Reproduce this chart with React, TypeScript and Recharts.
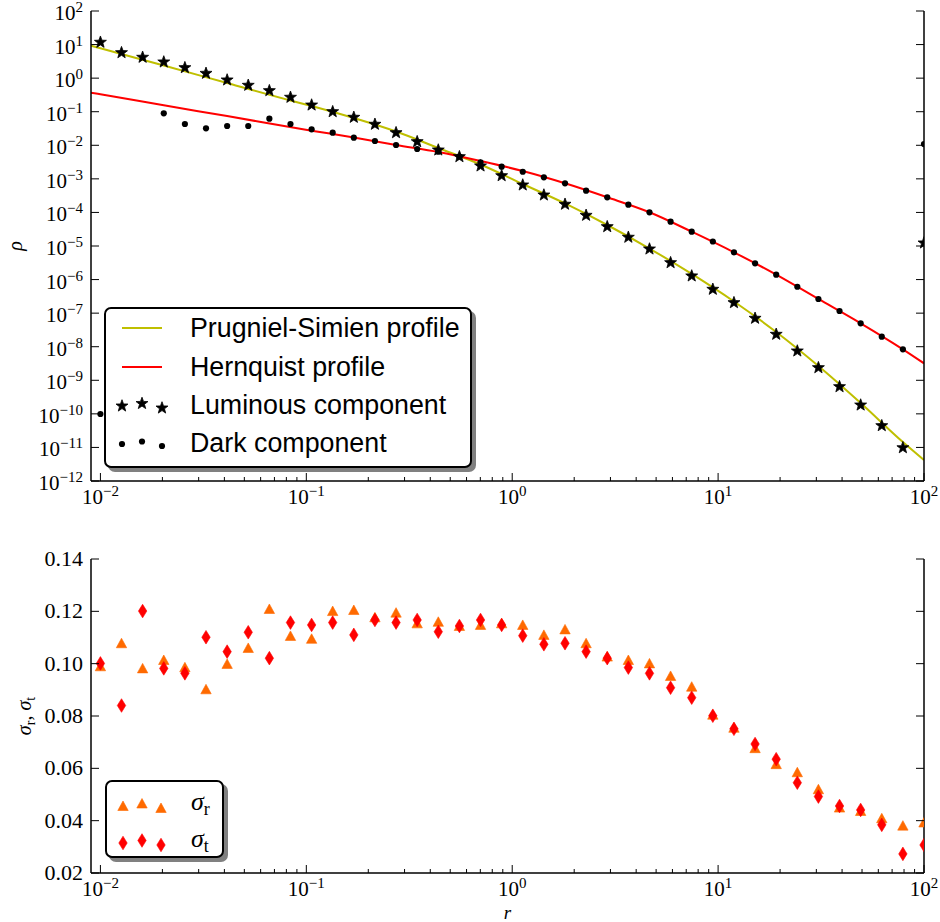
import React from 'react';
import { ComposedChart, Scatter, Line, XAxis, YAxis, Legend } from 'recharts';

// ---------------- data ----------------
const R_GRID = [
  0.01, 0.01266, 0.01603, 0.02031, 0.02572, 0.03257, 0.04125, 0.05223, 0.06615, 0.08377,
  0.1061, 0.1343, 0.1701, 0.2154, 0.2728, 0.3455, 0.4375, 0.5541, 0.7017, 0.8886,
  1.125, 1.425, 1.805, 2.285, 2.894, 3.665, 4.642, 5.878, 7.444, 9.427,
  11.94, 15.12, 19.15, 24.25, 30.7, 38.88, 49.24, 62.36, 78.97, 100,
];

const LUMINOUS_RHO = [
  11.7, 5.73, 4.18, 3.03, 2.05, 1.39, 0.881, 0.612, 0.423, 0.269,
  0.158, 0.1, 0.0681, 0.0422, 0.0237, 0.0128, 0.00723, 0.00457, 0.00242, 0.00124,
  6.56e-4, 3.3e-4, 1.75e-4, 8.2e-5, 3.76e-5, 1.82e-5, 8.13e-6, 3.18e-6, 1.28e-6, 5.13e-7,
  2.05e-7, 7.02e-8, 2.34e-8, 7.45e-9, 2.37e-9, 6.43e-10, 1.83e-10, 4.44e-11, 9.79e-12, 1.23e-5,
];

const DARK_RHO: (number | null)[] = [
  9.9e-11, null, null, 0.0897, 0.0431, 0.0321, 0.0375, 0.0375, 0.0619, 0.0431,
  0.0299, 0.0237, 0.0168, 0.0134, 0.0102, 0.00774, 0.00644, 0.00457, 0.00311, 0.0023,
  0.00163, 0.00111, 7.36e-4, 4.44e-4, 2.82e-4, 1.7e-4, 1.01e-4, 5.3e-5, 2.67e-5, 1.36e-5,
  6.49e-6, 3.05e-6, 1.4e-6, 6.12e-7, 2.64e-7, 1.16e-7, 4.98e-8, 1.99e-8, 8.36e-9, 0.0109,
];

const PS_R = [0.009, 0.01, 0.02031, 0.04125, 0.08377, 0.1061, 0.1701, 0.2728, 0.4375, 0.7017, 1.125, 1.805, 2.894, 4.642, 7.444, 11.94, 19.15, 30.7, 49.24, 78.97, 100];
const PS_RHO = [9.25, 7.74, 2.38, 0.716, 0.216, 0.148, 0.065, 0.0257, 0.0083, 0.00267, 7.03e-4, 1.85e-4, 4.22e-5, 8.41e-6, 1.47e-6, 2.22e-7, 2.74e-8, 2.66e-9, 2.1e-10, 1.45e-11, 4.22e-12];

const HQ_R = [0.009, 0.01, 0.02031, 0.04125, 0.1061, 0.1701, 0.2728, 0.4375, 0.7017, 1.125, 1.805, 2.894, 4.642, 7.444, 11.94, 19.15, 30.7, 49.24, 78.97, 100];
const HQ_RHO = [0.368, 0.33, 0.155, 0.074, 0.0272, 0.0171, 0.0102, 0.00631, 0.0034, 0.00171, 7.36e-4, 2.82e-4, 1.01e-4, 2.67e-5, 6.49e-6, 1.4e-6, 2.64e-7, 4.98e-8, 8.36e-9, 3.2e-9];

const SIGMA_R = [
  0.099, 0.1078, 0.0982, 0.1014, 0.0986, 0.0902, 0.0999, 0.106, 0.1209, 0.1106,
  0.1095, 0.1201, 0.1205, 0.1177, 0.1195, 0.1154, 0.116, 0.1144, 0.1148, 0.1154,
  0.1148, 0.111, 0.1131, 0.1078, 0.1027, 0.1014, 0.1001, 0.0953, 0.0912, 0.0805,
  0.0755, 0.0677, 0.0616, 0.0585, 0.052, 0.045, 0.0437, 0.0409, 0.0381, 0.0393,
];
const SIGMA_T = [
  0.1001, 0.084, 0.1201, 0.0982, 0.0963, 0.1101, 0.1046, 0.112, 0.1021, 0.1157,
  0.1148, 0.1157, 0.111, 0.1167, 0.1157, 0.1167, 0.1122, 0.1144, 0.1167, 0.1148,
  0.1107, 0.1074, 0.1078, 0.1046, 0.1021, 0.0985, 0.0963, 0.0908, 0.087, 0.0801,
  0.0751, 0.0693, 0.0635, 0.0545, 0.0492, 0.0456, 0.0441, 0.0384, 0.0273, 0.0307,
];

const X_DECADES = [0.01, 0.1, 1, 10, 100];
const X_MINOR_MULT = [2, 3, 4, 5, 6, 7, 8, 9];
const Y_TOP_TICKS = [1e-12, 1e-11, 1e-10, 1e-9, 1e-8, 1e-7, 1e-6, 1e-5, 1e-4, 1e-3, 1e-2, 1e-1, 1, 10, 100];
const Y_BOT_TICKS = [0.02, 0.04, 0.06, 0.08, 0.1, 0.12, 0.14];
const Y_BOT_LABELS = ['0.02', '0.04', '0.06', '0.08', '0.10', '0.12', '0.14'];

const LEGEND_TOP = ['Prugniel-Simien profile', 'Hernquist profile', 'Luminous component', 'Dark component'];

// ---------------- styles ----------------
const SERIF = "'Liberation Serif', 'DejaVu Serif', serif";
const SANS = "'Liberation Sans', Arial, sans-serif";
const C_PS = '#bfbf00';
const C_HQ = '#ff0000';
const C_TRI = '#ff6a00';
const C_DIA = '#ff0000';
const AXLINE = { stroke: '#000', strokeWidth: 1.5 };
const TICK_FS = 21;
const SUP_FS = 15;

const X_TICKS: number[] = [];
X_DECADES.forEach((d, i) => {
  X_TICKS.push(d);
  if (i < X_DECADES.length - 1) X_MINOR_MULT.forEach((m) => X_TICKS.push(m * d));
});

const pts = (xs: number[], ys: (number | null)[]) =>
  xs.map((r, i) => ({ r, v: ys[i] })).filter((p) => p.v != null);

const psData = pts(PS_R, PS_RHO);
const hqData = pts(HQ_R, HQ_RHO);
const lumData = pts(R_GRID, LUMINOUS_RHO);
const darkData = pts(R_GRID, DARK_RHO);
const sigRData = pts(R_GRID, SIGMA_R);
const sigTData = pts(R_GRID, SIGMA_T);

const isDecade = (v: number) => {
  const l = Math.log10(v);
  return Math.abs(l - Math.round(l)) < 1e-6;
};
const expStr = (v: number) => {
  const e = Math.round(Math.log10(v));
  return e < 0 ? '\u2212' + String(-e) : String(e);
};

// ---------------- marker shapes ----------------
function starPath(cx: number, cy: number, R: number, r: number) {
  let d = '';
  for (let i = 0; i < 10; i++) {
    const a = -Math.PI / 2 + (i * Math.PI) / 5;
    const rad = i % 2 === 0 ? R : r;
    d += (i === 0 ? 'M' : 'L') + (cx + rad * Math.cos(a)).toFixed(2) + ',' + (cy + rad * Math.sin(a)).toFixed(2);
  }
  return d + 'Z';
}
const Star = ({ cx, cy }: any) =>
  cx == null ? null : <path d={starPath(cx, cy, 6.3, 2.6)} fill="#000" stroke="#000" strokeWidth={0.8} />;
const Dot = ({ cx, cy }: any) => (cx == null ? null : <circle cx={cx} cy={cy} r={3.1} fill="#000" />);
const Tri = ({ cx, cy }: any) =>
  cx == null ? null : (
    <path d={`M${cx},${cy - 5}L${cx + 5.2},${cy + 4.5}L${cx - 5.2},${cy + 4.5}Z`} fill={C_TRI} stroke={C_TRI} strokeWidth={0.6} />
  );
const Dia = ({ cx, cy }: any) =>
  cx == null ? null : (
    <path d={`M${cx},${cy - 6.8}L${cx + 4.2},${cy}L${cx},${cy + 6.8}L${cx - 4.2},${cy}Z`} fill={C_DIA} stroke={C_DIA} strokeWidth={0.6} />
  );

// ---------------- ticks ----------------
const XTick = (props: any) => {
  const { x, y, payload, side, showLabel } = props;
  const v = payload.value;
  const major = isDecade(v);
  const len = major ? 8 : 4;
  const dir = side === 'bottom' ? -1 : 1;
  return (
    <g>
      <line x1={x} x2={x} y1={y} y2={y + dir * len} stroke="#000" strokeWidth={1} />
      {showLabel && major && (
        <text x={x} y={y + 23} textAnchor="middle" fontFamily={SERIF} fontSize={TICK_FS} fill="#000">
          <tspan>10</tspan>
          <tspan dy={-8} fontSize={SUP_FS}>{expStr(v)}</tspan>
        </text>
      )}
    </g>
  );
};

const YTickLog = (props: any) => {
  const { x, y, payload, side, showLabel } = props;
  const v = payload.value;
  const dir = side === 'left' ? 1 : -1;
  return (
    <g>
      <line x1={x} x2={x + dir * 8} y1={y} y2={y} stroke="#000" strokeWidth={1} />
      {showLabel && (
        <text x={x - 8} y={y + 9} textAnchor="end" fontFamily={SERIF} fontSize={TICK_FS} fill="#000">
          <tspan>10</tspan>
          <tspan dy={-8} fontSize={SUP_FS}>{expStr(v)}</tspan>
        </text>
      )}
    </g>
  );
};

const YTickLin = (props: any) => {
  const { x, y, payload, side, showLabel } = props;
  const v = payload.value;
  const dir = side === 'left' ? 1 : -1;
  const idx = Y_BOT_TICKS.findIndex((t) => Math.abs(t - v) < 1e-9);
  return (
    <g>
      <line x1={x} x2={x + dir * 8} y1={y} y2={y} stroke="#000" strokeWidth={1} />
      {showLabel && idx >= 0 && (
        <text x={x - 8} y={y + 7} textAnchor="end" fontFamily={SERIF} fontSize={22} fill="#000">
          {Y_BOT_LABELS[idx]}
        </text>
      )}
    </g>
  );
};

// ---------------- legends ----------------
const TopLegend = () => {
  const rows = [21, 60, 98, 136];
  const offs = [1, -1.5, 3];
  return (
    <div
      style={{
        width: 368,
        height: 161,
        boxSizing: 'border-box',
        border: '2px solid #000',
        borderRadius: 7,
        background: '#fff',
        boxShadow: '4px 4px 0 #808080',
        position: 'relative',
      }}
    >
      <svg width={364} height={157} style={{ position: 'absolute', left: -2, top: -2, overflow: 'visible' }}>
        <line x1={18} x2={58} y1={rows[0]} y2={rows[0]} stroke={C_PS} strokeWidth={2} />
        <line x1={18} x2={58} y1={rows[1]} y2={rows[1]} stroke={C_HQ} strokeWidth={2} />
        {[18, 38, 58].map((mx, i) => (
          <Star key={'s' + i} cx={mx} cy={rows[2] + offs[i]} />
        ))}
        {[18, 38, 58].map((mx, i) => (
          <Dot key={'d' + i} cx={mx} cy={rows[3] + offs[i]} />
        ))}
        {LEGEND_TOP.map((t, i) => (
          <text key={t} x={86} y={rows[i] + 9} fontFamily={SANS} fontSize={26.8} fill="#000">
            {t}
          </text>
        ))}
      </svg>
    </div>
  );
};

const BottomLegend = () => {
  const rows = [25, 62];
  const offs = [1, -1.5, 3];
  return (
    <div
      style={{
        width: 119,
        height: 78,
        boxSizing: 'border-box',
        border: '2px solid #000',
        borderRadius: 7,
        background: '#fff',
        boxShadow: '4px 4px 0 #808080',
        position: 'relative',
      }}
    >
      <svg width={115} height={74} style={{ position: 'absolute', left: -2, top: -2, overflow: 'visible' }}>
        {[18, 37, 56].map((mx, i) => (
          <Tri key={'t' + i} cx={mx} cy={rows[0] + offs[i]} />
        ))}
        {[18, 37, 56].map((mx, i) => (
          <Dia key={'d' + i} cx={mx} cy={rows[1] + offs[i]} />
        ))}
        <text x={86} y={rows[0] + 5} fontFamily={SERIF} fontSize={26} fill="#000">
          <tspan fontStyle="italic">σ</tspan>
          <tspan dy={5} fontSize={18}>r</tspan>
        </text>
        <text x={86} y={rows[1] + 5} fontFamily={SERIF} fontSize={26} fill="#000">
          <tspan fontStyle="italic">σ</tspan>
          <tspan dy={5} fontSize={18}>t</tspan>
        </text>
      </svg>
    </div>
  );
};

// ---------------- app ----------------
export default function App() {
  return (
    <div style={{ position: 'absolute', left: 0, top: 0, width: 940, height: 922, background: '#fff' }}>
      <div style={{ position: 'absolute', left: 0, top: 0 }}>
        <ComposedChart width={940} height={520} margin={{ top: 11, right: 0, bottom: 0, left: 0 }}>
          <XAxis
            xAxisId="b"
            orientation="bottom"
            type="number"
            dataKey="r"
            scale="log"
            domain={[0.009, 100]}
            allowDataOverflow
            ticks={X_TICKS}
            interval={0}
            height={39}
            tickSize={0}
            tickMargin={0}
            tickLine={false}
            axisLine={AXLINE}
            tick={(p: any) => <XTick {...p} side="bottom" showLabel />}
          />
          <XAxis
            xAxisId="t"
            orientation="top"
            type="number"
            dataKey="r"
            scale="log"
            domain={[0.009, 100]}
            allowDataOverflow
            ticks={X_TICKS}
            interval={0}
            height={0}
            tickSize={0}
            tickMargin={0}
            tickLine={false}
            axisLine={AXLINE}
            tick={(p: any) => <XTick {...p} side="top" />}
          />
          <YAxis
            yAxisId="l"
            orientation="left"
            type="number"
            dataKey="v"
            scale="log"
            domain={[1e-12, 100]}
            allowDataOverflow
            ticks={Y_TOP_TICKS}
            interval={0}
            width={91}
            tickSize={0}
            tickMargin={0}
            tickLine={false}
            axisLine={AXLINE}
            tick={(p: any) => <YTickLog {...p} side="left" showLabel />}
            label={{
              content: (lp: any) => {
                const vb = lp.viewBox || { x: 0, y: 11, width: 91, height: 470 };
                const cx = vb.x + 22;
                const cy = vb.y + vb.height / 2;
                return (
                  <text x={cx} y={cy} transform={`rotate(-90 ${cx} ${cy})`} textAnchor="middle" fontFamily={SERIF} fontStyle="italic" fontSize={20} fill="#000">
                    ρ
                  </text>
                );
              },
            }}
          />
          <YAxis
            yAxisId="rt"
            orientation="right"
            type="number"
            dataKey="v"
            scale="log"
            domain={[1e-12, 100]}
            allowDataOverflow
            ticks={Y_TOP_TICKS}
            interval={0}
            width={16}
            tickSize={0}
            tickMargin={0}
            tickLine={false}
            axisLine={AXLINE}
            tick={(p: any) => <YTickLog {...p} side="right" />}
          />
          <Line xAxisId="b" yAxisId="l" data={psData} dataKey="v" type="monotone" stroke={C_PS} strokeWidth={2} dot={false} isAnimationActive={false} />
          <Line xAxisId="b" yAxisId="l" data={hqData} dataKey="v" type="monotone" stroke={C_HQ} strokeWidth={2} dot={false} isAnimationActive={false} />
          <Scatter xAxisId="b" yAxisId="l" data={lumData} dataKey="v" shape={Star} isAnimationActive={false} />
          <Scatter xAxisId="b" yAxisId="l" data={darkData} dataKey="v" shape={Dot} isAnimationActive={false} />
          <Legend
            layout="vertical"
            align="center"
            verticalAlign="middle"
            wrapperStyle={{ left: 104, top: 307, width: 368, height: 161 }}
            content={() => <TopLegend />}
          />
        </ComposedChart>
      </div>
      <div style={{ position: 'absolute', left: 0, top: 520 }}>
        <ComposedChart width={940} height={402} margin={{ top: 39, right: 0, bottom: 0, left: 0 }}>
          <XAxis
            xAxisId="b"
            orientation="bottom"
            type="number"
            dataKey="r"
            scale="log"
            domain={[0.009, 100]}
            allowDataOverflow
            ticks={X_TICKS}
            interval={0}
            height={49}
            tickSize={0}
            tickMargin={0}
            tickLine={false}
            axisLine={AXLINE}
            tick={(p: any) => <XTick {...p} side="bottom" showLabel />}
            label={{
              content: (lp: any) => {
                const vb = lp.viewBox || { x: 91, y: 353, width: 833, height: 49 };
                return (
                  <text x={vb.x + vb.width / 2} y={vb.y + 46} textAnchor="middle" fontFamily={SERIF} fontStyle="italic" fontSize={19} fill="#000">
                    r
                  </text>
                );
              },
            }}
          />
          <XAxis
            xAxisId="t"
            orientation="top"
            type="number"
            dataKey="r"
            scale="log"
            domain={[0.009, 100]}
            allowDataOverflow
            ticks={X_TICKS}
            interval={0}
            height={0}
            tickSize={0}
            tickMargin={0}
            tickLine={false}
            axisLine={AXLINE}
            tick={(p: any) => <XTick {...p} side="top" />}
          />
          <YAxis
            yAxisId="l"
            orientation="left"
            type="number"
            dataKey="v"
            domain={[0.02, 0.14]}
            allowDataOverflow
            ticks={Y_BOT_TICKS}
            interval={0}
            width={91}
            tickSize={0}
            tickMargin={0}
            tickLine={false}
            axisLine={AXLINE}
            tick={(p: any) => <YTickLin {...p} side="left" showLabel />}
            label={{
              content: (lp: any) => {
                const vb = lp.viewBox || { x: 0, y: 39, width: 91, height: 314 };
                const cx = vb.x + 31;
                const cy = vb.y + vb.height / 2;
                return (
                  <text x={cx} y={cy} transform={`rotate(-90 ${cx} ${cy})`} textAnchor="middle" fontFamily={SERIF} fontSize={20} fill="#000">
                    <tspan fontStyle="italic">σ</tspan>
                    <tspan dy={4} fontSize={14}>r</tspan>
                    <tspan dy={-4}>, </tspan>
                    <tspan fontStyle="italic">σ</tspan>
                    <tspan dy={4} fontSize={14}>t</tspan>
                  </text>
                );
              },
            }}
          />
          <YAxis
            yAxisId="rt"
            orientation="right"
            type="number"
            dataKey="v"
            domain={[0.02, 0.14]}
            allowDataOverflow
            ticks={Y_BOT_TICKS}
            interval={0}
            width={16}
            tickSize={0}
            tickMargin={0}
            tickLine={false}
            axisLine={AXLINE}
            tick={(p: any) => <YTickLin {...p} side="right" />}
          />
          <Scatter xAxisId="b" yAxisId="l" data={sigRData} dataKey="v" shape={Tri} isAnimationActive={false} />
          <Scatter xAxisId="b" yAxisId="l" data={sigTData} dataKey="v" shape={Dia} isAnimationActive={false} />
          <Legend
            layout="vertical"
            align="center"
            verticalAlign="middle"
            wrapperStyle={{ left: 105, top: 260, width: 119, height: 78 }}
            content={() => <BottomLegend />}
          />
        </ComposedChart>
      </div>
    </div>
  );
}
